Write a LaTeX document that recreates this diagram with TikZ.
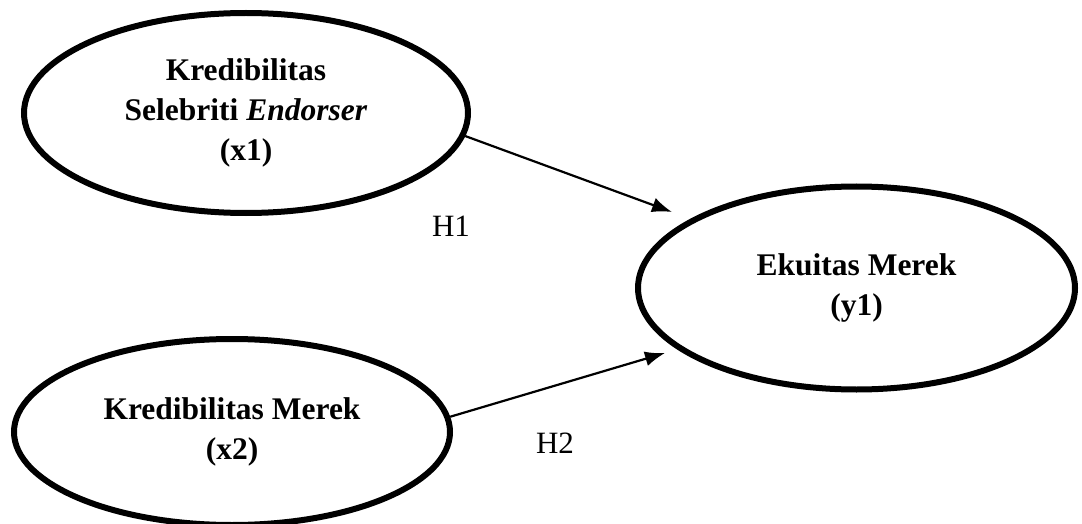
\documentclass[tikz,border=0pt]{standalone}
\usepackage{fontspec}
\setmainfont{Liberation Serif}
\usetikzlibrary{shapes.geometric,arrows.meta}
\begin{document}
\begin{tikzpicture}[x=1pt,y=-1pt,
  latent/.style={draw,ellipse,line width=6pt,inner sep=0pt,align=center,
    font=\fontsize{31.5}{40}\selectfont\bfseries},
  pathline/.style={line width=2.2pt,-{Latex[length=20pt,width=15pt]}},
  hlabel/.style={inner sep=0pt,font=\fontsize{31}{36}\selectfont}]
\useasboundingbox (0,0) rectangle (1082,524);
\node[latent,minimum width=444pt,minimum height=200pt] (x1) at (246,113)
  {Kredibilitas\\Selebriti \textit{Endorser}\\(x1)};
\node[latent,minimum width=437pt,minimum height=203pt] (y1) at (856.5,288)
  {Ekuitas Merek\\(y1)};
\node[latent,minimum width=436pt,minimum height=186pt] (x2) at (232,432)
  {Kredibilitas Merek\\(x2)};
\coordinate (t1) at (672,212);
\coordinate (t2) at (665,353);
\draw[pathline] (x1.-6) -- (t1);
\draw[pathline] (x2.4) -- (t2);
\node[hlabel] (h1) at (451,226) {H1};
\node[hlabel] (h2) at (555,443) {H2};
\end{tikzpicture}
\end{document}
